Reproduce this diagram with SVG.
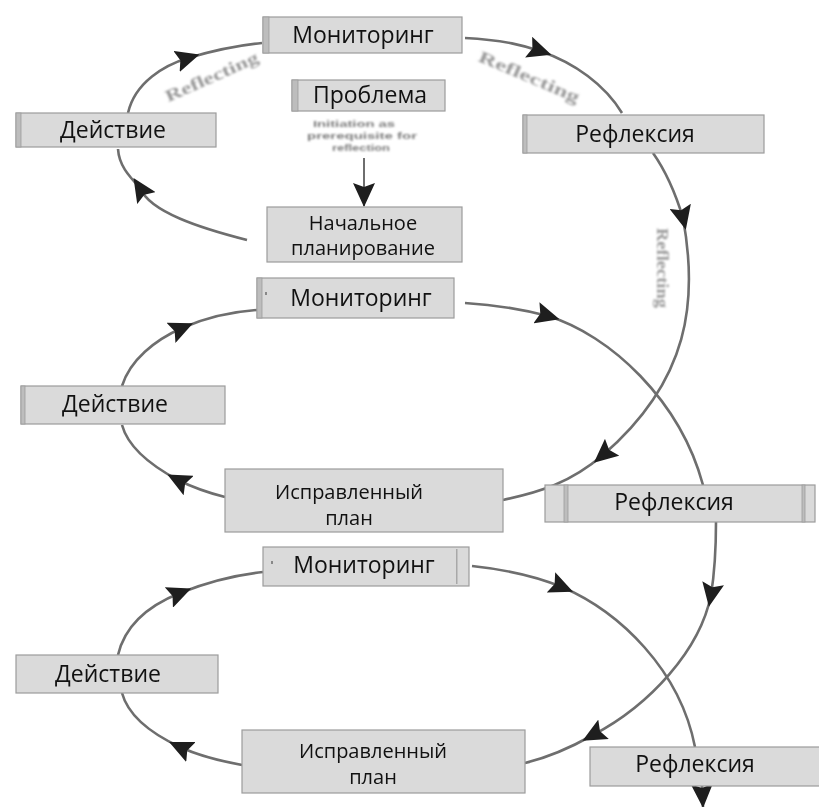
<svg xmlns="http://www.w3.org/2000/svg" width="819" height="807" viewBox="0 0 819 807">
<style>
.box{fill:#dadada;stroke:#9c9c9c;stroke-width:1.2}
.strip{fill:#bdbdbd;stroke:#9c9c9c;stroke-width:0.8}
.lbl{font-family:"Open Sans","Noto Sans",sans-serif;font-size:23px;fill:#111;text-anchor:middle}
.lbl2{font-family:"Open Sans","Noto Sans",sans-serif;font-size:20px;fill:#111;text-anchor:middle}
.con{fill:none;stroke:#6e6e6e;stroke-width:2.6;marker-mid:url(#ah)}
.refl{font-family:"Liberation Serif",serif;font-weight:bold;font-size:17px;fill:#9a9a9a;text-anchor:middle}
.tiny{font-family:"Liberation Sans",sans-serif;font-weight:bold;font-size:9.5px;fill:#7a7a7a;text-anchor:middle}
</style>
<defs>
<marker id="ah" viewBox="0 0 24 22" markerWidth="24" markerHeight="22" refX="12" refY="11" orient="auto" markerUnits="userSpaceOnUse">
<path d="M0,0 L24,11 L0,22 L4,11 z" fill="#1e1e1e"/>
</marker>
<marker id="ahe" viewBox="0 0 24 22" markerWidth="24" markerHeight="22" refX="23" refY="11" orient="auto" markerUnits="userSpaceOnUse">
<path d="M0,0 L24,11 L0,22 L4,11 z" fill="#1e1e1e"/>
</marker>
<filter id="blur" x="-10%" y="-10%" width="120%" height="120%"><feGaussianBlur stdDeviation="0.8"/></filter>
</defs>
<rect width="819" height="807" fill="#ffffff"/>

<g id="connectors">
<path class="con" d="M247,240 C200,228 150,212 140,188 C128,175 119,165 118,149"/>
<path class="con" d="M128,113 C135,82 165,65 188,58 C215,50 240,45 262,43"/>
<path class="con" d="M465,38 C505,40 525,46 540,51 C575,63 605,85 622,113"/>
<path class="con" d="M653,153 C665,170 676,195 683,218 C698,300 690,380 603,455 C570,483 540,492 503,500"/>
<path class="con" d="M465,303 C500,305 525,310 548,316 C610,335 680,400 703,485"/>
<path class="con" d="M225,497 C205,492 190,486 178,480 C150,465 128,447 122,425"/>
<path class="con" d="M122,386 C130,360 155,340 182,328 C205,318 228,312 257,310"/>
<path class="con" d="M716,522 C716,545 715,570 711,595 C700,650 650,705 593,735 C570,748 550,757 525,763"/>
<path class="con" d="M472,566 C510,570 540,578 562,587 C620,612 680,670 695,747"/>
<path class="con" d="M242,765 C215,760 195,754 180,747 C150,733 128,715 122,693"/>
<path class="con" d="M118,655 C125,625 150,605 180,593 C205,583 235,575 263,572"/>
<path d="M702,786 L703,807" fill="none" stroke="#6e6e6e" stroke-width="2.6" marker-end="url(#ahe)"/>
<path d="M364,158 L364,206" fill="none" stroke="#6e6e6e" stroke-width="2" marker-end="url(#ahe)"/>
<g filter="url(#blur)">
<text class="refl" transform="translate(214,82) rotate(-24)" textLength="100" lengthAdjust="spacingAndGlyphs">Reflecting</text>
<text class="refl" transform="translate(527,82) rotate(23)" textLength="108" lengthAdjust="spacingAndGlyphs">Reflecting</text>
<text class="refl" transform="translate(657,268) rotate(90)" textLength="80" lengthAdjust="spacingAndGlyphs">Reflecting</text>
</g>
</g>

<g id="n-monitoring1">
<rect class="box" x="263" y="17" width="199" height="36"/>
<rect class="strip" x="263" y="17" width="6" height="36"/>
<text class="lbl" x="363" y="43">Мониторинг</text>
</g>
<g id="n-problem">
<rect class="box" x="292" y="80" width="153" height="31"/>
<rect class="strip" x="292" y="80" width="6" height="31"/>
<text class="lbl" x="370" y="103">Проблема</text>
<g filter="url(#blur)">
<text class="tiny" x="354" y="127" textLength="82" lengthAdjust="spacingAndGlyphs">Initiation as</text>
<text class="tiny" x="362" y="139" textLength="110" lengthAdjust="spacingAndGlyphs">prerequisite for</text>
<text class="tiny" x="361" y="151" textLength="58" lengthAdjust="spacingAndGlyphs">reflection</text>
</g>
</g>
<g id="n-action1">
<rect class="box" x="16" y="113" width="200" height="34"/>
<rect class="strip" x="16" y="113" width="5" height="34"/>
<text class="lbl" x="113" y="138">Действие</text>
</g>
<g id="n-reflection1">
<rect class="box" x="523" y="115" width="241" height="38"/>
<rect class="strip" x="523" y="115" width="4" height="38"/>
<text class="lbl" x="635" y="142">Рефлексия</text>
</g>
<g id="n-initial-plan">
<rect class="box" x="267" y="207" width="195" height="55"/>
<text class="lbl2" x="363" y="230">Начальное</text>
<text class="lbl2" x="363" y="255">планирование</text>
</g>

<g id="n-monitoring2">
<rect class="box" x="257" y="278" width="197" height="40"/>
<rect class="strip" x="257" y="278" width="5" height="40"/>
<rect x="265" y="292" width="2" height="3" fill="#888"/>
<text class="lbl" x="361" y="306">Мониторинг</text>
</g>
<g id="n-action2">
<rect class="box" x="21" y="386" width="204" height="38"/>
<rect class="strip" x="21" y="386" width="4" height="38"/>
<text class="lbl" x="115" y="412">Действие</text>
</g>
<g id="n-revised-plan1">
<rect class="box" x="225" y="469" width="278" height="63"/>
<text class="lbl2" x="349" y="499">Исправленный</text>
<text class="lbl2" x="349" y="525">план</text>
</g>
<g id="n-reflection2">
<rect class="box" x="545" y="485" width="270" height="37"/>
<rect class="strip" x="564" y="485" width="4" height="37"/>
<rect class="strip" x="802" y="485" width="3" height="37"/>
<text class="lbl" x="674" y="510">Рефлексия</text>
</g>

<g id="n-monitoring3">
<rect class="box" x="263" y="547" width="206" height="39"/>
<rect x="456" y="549" width="1.5" height="35" fill="#a8a8a8"/>
<rect x="271" y="561" width="2" height="3" fill="#888"/>
<text class="lbl" x="364" y="573">Мониторинг</text>
</g>
<g id="n-action3">
<rect class="box" x="16" y="655" width="202" height="38"/>
<text class="lbl" x="108" y="682">Действие</text>
</g>
<g id="n-revised-plan2">
<rect class="box" x="242" y="730" width="283" height="63"/>
<text class="lbl2" x="373" y="758">Исправленный</text>
<text class="lbl2" x="373" y="784">план</text>
</g>
<g id="n-reflection3">
<rect class="box" x="590" y="747" width="235" height="39"/>
<text class="lbl" x="695" y="772">Рефлексия</text>
</g>
</svg>
